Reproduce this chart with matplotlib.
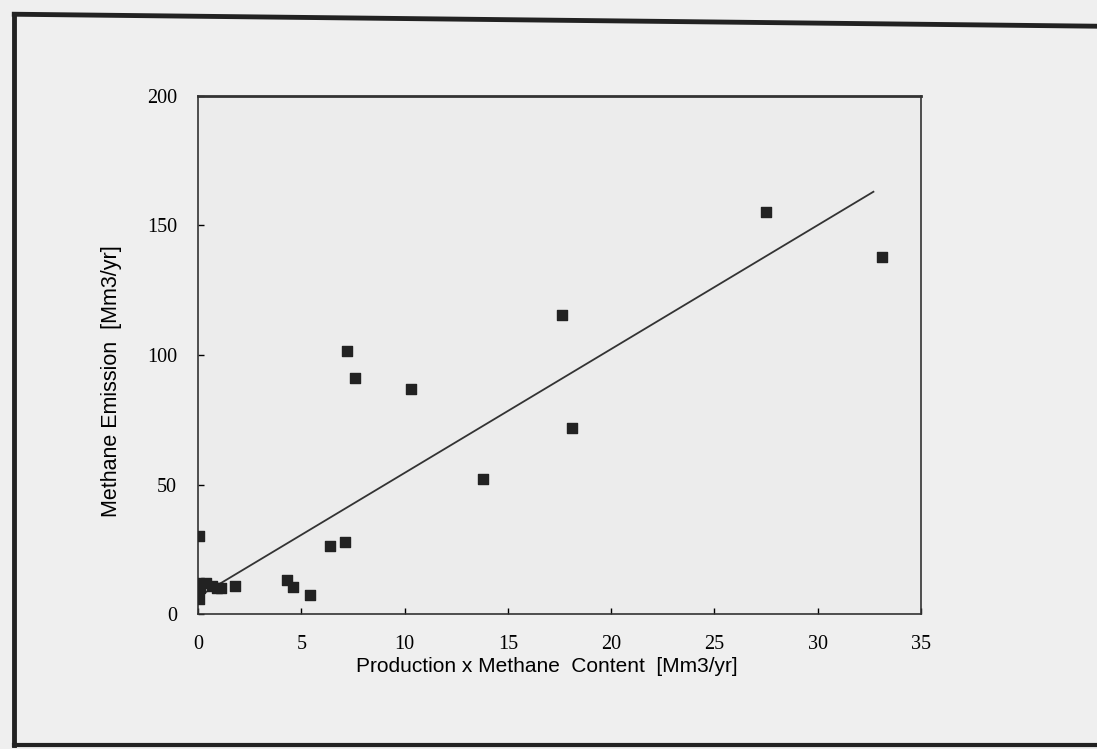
import matplotlib.pyplot as plt
import numpy as np

# production x methane content [Mm3/yr] vs methane emission [Mm3/yr]
prod = [0.05, 0.05, 0.05, 0.1, 0.4, 0.7, 0.9, 1.1, 1.8, 4.3, 4.6, 5.4,
        6.4, 7.1, 7.2, 7.6, 10.3, 13.8, 17.6, 18.1, 27.5, 33.1]
emis = [30, 12, 6, 10, 12, 11, 10, 10, 11, 13, 10.5, 7.5,
        26.5, 28, 101.5, 91, 87, 52, 115.5, 72, 155, 138]

# regression line
fit_slope = 4.78
fit_icept = 6.7
fit_x = [0.0, 32.7]

xticks = [0, 5, 10, 15, 20, 25, 30, 35]
yticks = [0, 50, 100, 150, 200]

fig = plt.figure(figsize=(10.97, 7.49), dpi=100, facecolor='#efefef')

# page frame of the scan
fig.add_artist(plt.Line2D([0.013, 0.013], [0.005, 0.981], color='#222222', lw=3.5))
fig.add_artist(plt.Line2D([0.013, 1.0], [0.981, 0.965], color='#222222', lw=3.5))
fig.add_artist(plt.Line2D([0.013, 1.0], [0.006, 0.006], color='#222222', lw=3))

ax = fig.add_axes([0.1805, 0.180, 0.659, 0.692])
ax.set_facecolor('#ececec')

ax.scatter(prod, emis, marker='s', s=50, color='#222222', zorder=3)
fx = np.array(fit_x)
ax.plot(fx, fit_icept + fit_slope * fx, color='#333333', lw=1.3)

ax.set_xlim(0, 35)
ax.set_ylim(0, 200)
ax.set_xticks(xticks)
ax.set_yticks(yticks)
ax.tick_params(direction='in', length=4, width=1, labelsize=14.5)
ax.tick_params(axis='x', pad=15)
ax.tick_params(axis='y', pad=15)
for lab in ax.get_xticklabels() + ax.get_yticklabels():
    lab.set_family('Liberation Serif')
for s in ax.spines.values():
    s.set_linewidth(1.2)
    s.set_color('#333333')
ax.spines['top'].set_linewidth(2)

ax.set_xlabel('Production x Methane  Content  [Mm3/yr]', fontsize=15,
              family='Liberation Sans')
ax.set_ylabel('Methane Emission  [Mm3/yr]', fontsize=15.5,
              family='Liberation Sans')
ax.xaxis.set_label_coords(0.483, -0.082)
ax.yaxis.set_label_coords(-0.105, 0.45)

fig.savefig('out.png', dpi=100, facecolor=fig.get_facecolor())
